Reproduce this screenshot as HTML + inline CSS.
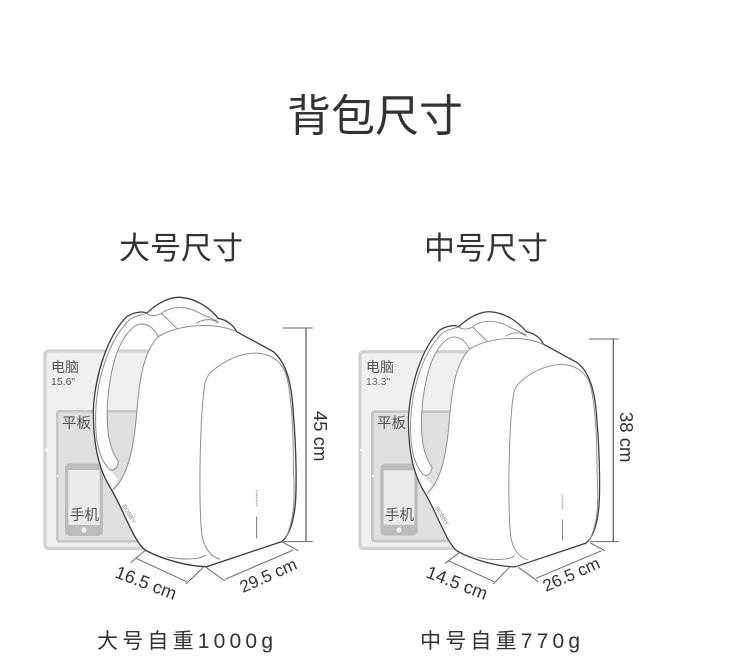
<!DOCTYPE html>
<html><head><meta charset="utf-8">
<style>
html,body{margin:0;padding:0;background:#fff}
svg{display:block}
text{font-family:"Liberation Sans","Noto Sans CJK SC",sans-serif}
</style></head>
<body>
<svg width="730" height="672" viewBox="0 0 730 672" xmlns="http://www.w3.org/2000/svg">
<defs>
<filter id="soft" x="-5%" y="-5%" width="110%" height="110%"><feGaussianBlur stdDeviation="1"/></filter>
<g id="bag">
  <path d="M245,630 C200,560 190,480 190,390 C195,290 230,170 290,110 C310,97 340,92 350,100 C380,70 420,50 450,52 C500,55 540,85 565,115 C590,120 610,135 620,155 L445,145 L385,170 C370,140 345,125 320,135 C270,165 240,250 232,380 C230,450 235,500 265,545 C262,570 245,575 235,565 L265,600 Z" fill="#fff" stroke="none"/>
  <path d="M245,630 C290,590 310,520 320,400 C328,300 340,215 385,170 C430,140 540,120 620,155 L730,215 C770,250 785,310 790,400 C800,520 800,640 795,680 C790,730 775,770 755,785 L530,860 C480,860 400,840 345,810 C310,780 290,710 245,630 Z" fill="#fff" stroke="none"/>
  <path d="M345,810 C310,780 290,710 245,630 C200,560 190,480 190,390 C195,290 230,170 290,110 C310,97 340,92 350,100 C380,70 420,50 450,52 C500,55 540,85 565,115 C590,120 610,135 620,155 L730,215 C770,250 785,310 790,400 C800,520 800,640 795,680 C790,730 775,770 755,785 L530,860 C480,860 400,840 345,810" fill="none" stroke="#3c3c3c" stroke-width="4"/>
  <g fill="none" stroke="#8c8c8c" stroke-width="3">
    <path d="M250,628 C290,590 310,520 320,400 C328,300 340,215 385,170 C430,140 540,120 620,155"/>
    <path d="M385,170 C370,140 345,125 320,135 C270,165 240,250 232,380 C230,450 235,500 265,545 C262,570 245,575 235,565 C205,530 195,480 197,400 C200,300 235,180 300,118 C315,108 340,104 350,100"/>
    <path d="M350,100 C365,112 385,105 395,100 L440,145"/>
    <path d="M395,100 C420,78 470,75 510,100 L565,125"/>
    <path d="M500,130 C520,115 550,115 565,130"/>
    <path d="M540,280 C580,240 640,215 690,220 C730,225 760,250 770,290 C785,350 790,450 790,560 C795,650 795,720 765,778"/>
    <path d="M540,280 Q530,290 525,310 C510,400 505,650 515,760 C520,800 540,830 570,838"/>
    <path d="M410,830 C450,840 510,840 528,825"/>
  </g>
  <path d="M680,710 L680,775" stroke="#777" stroke-width="3" fill="none"/>
  <path d="M680,630 L680,680" stroke="#aaa" stroke-width="5" stroke-dasharray="3 2" fill="none"/>
</g>
</defs>

<text x="375" y="131" font-size="44" fill="#333" text-anchor="middle">背包尺寸</text>
<text x="181" y="259" font-size="31" fill="#333" text-anchor="middle">大号尺寸</text>
<text x="486" y="259" font-size="31" fill="#333" text-anchor="middle">中号尺寸</text>
<text x="97" y="648" font-size="21" fill="#333" letter-spacing="4.2">大号自重1000g</text>
<text x="420" y="648" font-size="21" fill="#333" letter-spacing="4.2">中号自重770g</text>

<g transform="translate(30,280) scale(.33333)">
  <g filter="url(#soft)">
  <rect x="45" y="213" width="330" height="592" rx="10" fill="#f0f0f0" stroke="#d2d2d2" stroke-width="10"/>
  <rect x="82" y="394" width="280" height="390" rx="6" fill="#e0e0e0" stroke="#c6c6c6" stroke-width="8"/>
  <rect x="105" y="550" width="114" height="218" rx="14" fill="#bcbcbc"/>
  <rect x="115" y="570" width="94" height="165" fill="#ebebeb"/>
  <circle cx="162" cy="750" r="8" fill="#f2f2f2"/>
  <circle cx="50" cy="510" r="5" fill="#fff"/>
  <circle cx="83" cy="588" r="3" fill="#fff"/>
  <use href="#bag"/>
  <g stroke="#6a6a6a" stroke-width="3" fill="none">
    <path d="M828,145 V785" stroke-width="4"/>
    <path d="M758,144 H848 M760,785 H848"/>
    <path d="M345,812 L302,848 M520,862 L468,912 M318,835 L470,905"/>
    <path d="M528,862 L585,903 M755,785 L805,812 M585,898 L790,810"/>
  </g>
  </g>
</g>
<text x="51" y="372" font-size="14" fill="#555">电脑</text>
<text x="51" y="385" font-size="10.5" fill="#555">15.6"</text>
<text x="62" y="428" font-size="14.5" fill="#555">平板</text>
<text x="70" y="520" font-size="14.5" fill="#555">手机</text>
<text transform="translate(314,411) rotate(90)" font-size="18.5" fill="#333">45 cm</text>
<text transform="translate(114,577) rotate(21)" font-size="18" fill="#333">16.5 cm</text>
<text transform="translate(243,593) rotate(-24)" font-size="17" fill="#333">29.5 cm</text>
<text transform="translate(122,506) rotate(59)" font-size="6" fill="#888">BOBBY</text>

<g transform="translate(350,290) scale(.33333)">
  <g filter="url(#soft)">
  <rect x="30" y="185" width="330" height="590" rx="10" fill="#f0f0f0" stroke="#d2d2d2" stroke-width="10"/>
  <rect x="67" y="365" width="280" height="388" rx="6" fill="#e0e0e0" stroke="#c6c6c6" stroke-width="8"/>
  <rect x="91" y="521" width="112" height="216" rx="14" fill="#bcbcbc"/>
  <rect x="101" y="541" width="92" height="163" fill="#ebebeb"/>
  <circle cx="147" cy="720" r="8" fill="#f2f2f2"/>
  <circle cx="35" cy="480" r="5" fill="#fff"/>
  <circle cx="69" cy="558" r="3" fill="#fff"/>
  <use href="#bag" transform="translate(-4,16) scale(.943,.947)"/>
  <g stroke="#6a6a6a" stroke-width="3" fill="none">
    <path d="M790,147 V755" stroke-width="4"/>
    <path d="M717,147 H806 M720,755 H806"/>
    <path d="M328,788 L285,820 M478,832 L430,882 M295,812 L432,875"/>
    <path d="M505,832 L565,875 M720,758 L765,782 M558,865 L755,782"/>
  </g>
  </g>
</g>
<text x="366" y="372" font-size="14" fill="#555">电脑</text>
<text x="366" y="385" font-size="10.5" fill="#666">13.3"</text>
<text x="377" y="428" font-size="14.5" fill="#555">平板</text>
<text x="385" y="520" font-size="14.5" fill="#555">手机</text>
<text transform="translate(620,412) rotate(90)" font-size="18.5" fill="#333">38 cm</text>
<text transform="translate(425,577) rotate(21)" font-size="18" fill="#333">14.5 cm</text>
<text transform="translate(546,592) rotate(-24)" font-size="17" fill="#333">26.5 cm</text>
<text transform="translate(435,508) rotate(59)" font-size="6" fill="#888">BOBBY</text>
</svg>
</body></html>
